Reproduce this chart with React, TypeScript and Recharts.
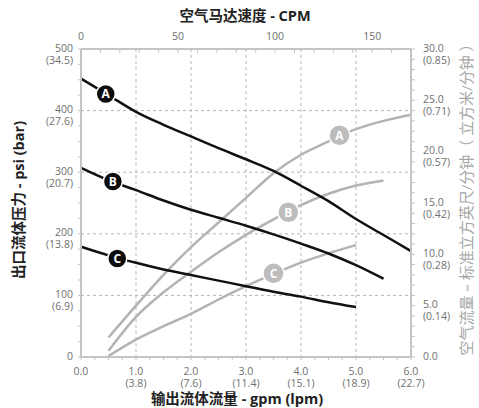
import { ComposedChart, Line, XAxis, YAxis, CartesianGrid, ReferenceDot } from 'recharts';

// 输出流量 gpm (x axis)
const gpmBlackA = [0, 0.5, 1, 1.5, 2, 2.5, 3, 3.5, 4, 4.5, 5, 5.5, 6];
const psiA = [452, 425, 398, 377, 358, 339, 321, 302, 278, 253, 224, 198, 172];
const gpmBlackB = [0, 0.5, 1, 1.5, 2, 2.5, 3, 3.5, 4, 4.5, 5, 5.5];
const psiB = [307, 287, 271, 254, 239, 226, 213, 199, 184, 168, 149, 127];
const gpmBlackC = [0, 0.5, 1, 1.5, 2, 2.5, 3, 3.5, 4, 4.5, 5];
const psiC = [179, 165, 153, 142, 133, 124, 115, 106, 98, 89, 81];

// 空气流量 scfm
const gpmGrayA = [0.5, 1, 1.5, 2, 2.5, 3, 3.5, 4, 4.5, 5, 5.5, 6];
const airA = [1.9, 5.0, 8.0, 10.7, 13.1, 15.5, 17.9, 19.7, 21.0, 22.2, 23.0, 23.6];
const gpmGrayB = [0.5, 1, 1.5, 2, 2.5, 3, 3.5, 4, 4.5, 5, 5.5];
const airB = [0.6, 3.9, 6.3, 8.3, 10.2, 11.9, 13.4, 14.8, 15.9, 16.7, 17.2];
const gpmGrayC = [0.5, 1, 1.5, 2, 2.5, 3, 3.5, 4, 4.5, 5];
const airC = [0.1, 1.7, 3.0, 4.2, 5.6, 6.9, 8.1, 9.2, 10.1, 10.9];

// ticks
const gpmTicks = [0, 0.25, 0.5, 0.75, 1, 1.25, 1.5, 1.75, 2, 2.25, 2.5, 2.75, 3, 3.25, 3.5, 3.75, 4, 4.25, 4.5, 4.75, 5, 5.25, 5.5, 5.75, 6];
const lpmLabels: Record<number, string> = { 1: '3.8', 2: '7.6', 3: '11.4', 4: '15.1', 5: '18.9', 6: '22.7' };
const cpmTicks = [0, 10, 20, 30, 40, 50, 60, 70, 80, 90, 100, 110, 120, 130, 140, 150, 160, 170];
const cpmLabels = [0, 50, 100, 150];
const psiTicks = [0, 25, 50, 75, 100, 125, 150, 175, 200, 225, 250, 275, 300, 325, 350, 375, 400, 425, 450, 475, 500];
const barLabels: Record<number, string> = { 100: '6.9', 200: '13.8', 300: '20.7', 400: '27.6', 500: '34.5' };
const airTicks = [0, 1, 2, 3, 4, 5, 6, 7, 8, 9, 10, 11, 12, 13, 14, 15, 16, 17, 18, 19, 20, 21, 22, 23, 24, 25, 26, 27, 28, 29, 30];
const m3Labels: Record<number, string> = { 5: '0.14', 10: '0.28', 15: '0.42', 20: '0.57', 25: '0.71', 30: '0.85' };

// curve tags
const blackTags = [
  { name: 'A', gpm: 0.45, psi: 427 },
  { name: 'B', gpm: 0.58, psi: 285 },
  { name: 'C', gpm: 0.66, psi: 160 },
];
const grayTags = [
  { name: 'A', gpm: 4.7, air: 21.6 },
  { name: 'B', gpm: 3.77, air: 14.1 },
  { name: 'C', gpm: 3.5, air: 8.15 },
];

const zip = (xs: number[], ys: number[], key: string) => xs.map((x, i) => ({ gpm: x, [key]: ys[i] }));
// binds the top CPM axis so it gets drawn; has no y values
const cpmAnchor = cpmLabels.map((c) => ({ cpm: c }));

const FONT = '"Open Sans", "Noto Sans CJK SC", sans-serif';
const TICK_COLOR = '#6f6f6f';
const AXIS_COLOR = '#c4c4c4';
const TICK_FS = 10.5;

const BottomTick = ({ x, y, payload }: any) => {
  const v = payload.value;
  if (!Number.isInteger(v)) return <g />;
  return (
    <g fill={TICK_COLOR} fontSize={TICK_FS} fontFamily={FONT}>
      <text x={x} y={y + 11} textAnchor="middle">{v.toFixed(1)}</text>
      {lpmLabels[v] && <text x={x} y={y + 23} textAnchor="middle">({lpmLabels[v]})</text>}
    </g>
  );
};

const TopTick = ({ x, y, payload }: any) => {
  if (!cpmLabels.includes(payload.value)) return <g />;
  return (
    <text x={x} y={y} textAnchor="middle" fill={TICK_COLOR} fontSize={TICK_FS} fontFamily={FONT}>
      {payload.value}
    </text>
  );
};

const LeftTick = ({ x, y, payload }: any) => {
  const v = payload.value;
  if (v % 100 !== 0) return <g />;
  return (
    <g fill={TICK_COLOR} fontSize={TICK_FS} fontFamily={FONT}>
      <text x={x} y={y + 2.5} textAnchor="end">{v}</text>
      {barLabels[v] && <text x={x} y={y + 14.5} textAnchor="end">({barLabels[v]})</text>}
    </g>
  );
};

const RightTick = ({ x, y, payload }: any) => {
  const v = payload.value;
  if (v % 5 !== 0) return <g />;
  return (
    <g fill={TICK_COLOR} fontSize={TICK_FS} fontFamily={FONT}>
      <text x={x} y={y + 2.5} textAnchor="start">{v.toFixed(1)}</text>
      {m3Labels[v] && <text x={x} y={y + 14.5} textAnchor="start">({m3Labels[v]})</text>}
    </g>
  );
};

const tagShape = (name: string, fill: string, r: number) => (props: any) => (
  <g>
    <circle cx={props.cx} cy={props.cy} r={r} fill={fill} stroke="#fff" strokeWidth={1.5} />
    <text x={props.cx} y={props.cy + 4.5} textAnchor="middle" fill="#fff" fontSize={12} fontWeight="bold" fontFamily={FONT}>
      {name}
    </text>
  </g>
);

export default function App() {
  return (
    <div style={{ position: 'absolute', left: 0, top: 0, width: 479, height: 408, background: '#fff' }}>
      <ComposedChart width={479} height={408} margin={{ top: 0, right: 0, bottom: 0, left: 0 }}>
        <CartesianGrid
          xAxisId="gpm"
          yAxisId="psi"
          stroke="#b5b5b5"
          strokeDasharray="3 3"
          horizontalValues={[100, 200, 300, 400]}
          verticalValues={[1, 2, 3, 4, 5]}
        />
        <XAxis
          xAxisId="gpm"
          dataKey="gpm"
          type="number"
          domain={[0, 6]}
          ticks={gpmTicks}
          interval={0}
          height={51}
          axisLine={{ stroke: AXIS_COLOR, strokeWidth: 2 }}
          tickLine={{ stroke: AXIS_COLOR }}
          tickSize={3}
          tickMargin={4}
          tick={<BottomTick />}
        />
        <XAxis
          xAxisId="cpm"
          dataKey="cpm"
          orientation="top"
          type="number"
          domain={[0, 170]}
          ticks={cpmTicks}
          interval={0}
          height={49}
          allowDataOverflow
          axisLine={{ stroke: AXIS_COLOR, strokeWidth: 2 }}
          tickLine={{ stroke: AXIS_COLOR }}
          tickSize={-4}
          tickMargin={13}
          tick={<TopTick />}
        />
        <YAxis
          yAxisId="psi"
          type="number"
          domain={[0, 500]}
          ticks={psiTicks}
          interval={0}
          width={81}
          axisLine={{ stroke: AXIS_COLOR, strokeWidth: 2 }}
          tickLine={{ stroke: AXIS_COLOR }}
          tickSize={3}
          tickMargin={5}
          tick={<LeftTick />}
        />
        <YAxis
          yAxisId="air"
          orientation="right"
          type="number"
          domain={[0, 30]}
          ticks={airTicks}
          interval={0}
          width={68}
          axisLine={{ stroke: AXIS_COLOR, strokeWidth: 2 }}
          tickLine={{ stroke: AXIS_COLOR }}
          tickSize={4}
          tickMargin={8}
          tick={<RightTick />}
        />

        <Line xAxisId="cpm" yAxisId="psi" data={cpmAnchor} dataKey="none" stroke="none" dot={false} activeDot={false} isAnimationActive={false} />

        <Line xAxisId="gpm" yAxisId="air" data={zip(gpmGrayA, airA, 'air')} dataKey="air" type="monotone" stroke="#b3b3b3" strokeWidth={2.5} dot={false} activeDot={false} isAnimationActive={false} />
        <Line xAxisId="gpm" yAxisId="air" data={zip(gpmGrayB, airB, 'air')} dataKey="air" type="monotone" stroke="#b3b3b3" strokeWidth={2.5} dot={false} activeDot={false} isAnimationActive={false} />
        <Line xAxisId="gpm" yAxisId="air" data={zip(gpmGrayC, airC, 'air')} dataKey="air" type="monotone" stroke="#b3b3b3" strokeWidth={2.5} dot={false} activeDot={false} isAnimationActive={false} />
        <Line xAxisId="gpm" yAxisId="psi" data={zip(gpmBlackA, psiA, 'psi')} dataKey="psi" type="monotone" stroke="#111" strokeWidth={2.5} dot={false} activeDot={false} isAnimationActive={false} />
        <Line xAxisId="gpm" yAxisId="psi" data={zip(gpmBlackB, psiB, 'psi')} dataKey="psi" type="monotone" stroke="#111" strokeWidth={2.5} dot={false} activeDot={false} isAnimationActive={false} />
        <Line xAxisId="gpm" yAxisId="psi" data={zip(gpmBlackC, psiC, 'psi')} dataKey="psi" type="monotone" stroke="#111" strokeWidth={2.5} dot={false} activeDot={false} isAnimationActive={false} />

        {blackTags.map((t) => (
          <ReferenceDot key={'b' + t.name} xAxisId="gpm" yAxisId="psi" x={t.gpm} y={t.psi} r={9} shape={tagShape(t.name, '#0d0d0d', 9.5)} />
        ))}
        {grayTags.map((t) => (
          <ReferenceDot key={'g' + t.name} xAxisId="gpm" yAxisId="air" x={t.gpm} y={t.air} r={10} shape={tagShape(t.name, '#bdbdbd', 10.5)} />
        ))}
      </ComposedChart>

      {/* axis titles */}
      <svg width={479} height={408} style={{ position: 'absolute', left: 0, top: 0, pointerEvents: 'none' }}>
        <text x={245} y={21} textAnchor="middle" fontSize={14.5} fontWeight="bold" fill="#222" fontFamily={FONT}>
          空气马达速度 - CPM
        </text>
        <text x={237} y={404} textAnchor="middle" fontSize={14.5} fontWeight="bold" fill="#222" fontFamily={FONT}>
          输出流体流量 - gpm (lpm)
        </text>
        <text transform="translate(24,200) rotate(-90)" textAnchor="middle" fontSize={14.5} fontWeight="bold" fill="#222" fontFamily={FONT}>
          出口流体压力 - psi (bar)
        </text>
        <text transform="translate(472,196) rotate(-90)" textAnchor="middle" fontSize={15} fill="#a8a8a8" fontFamily={FONT}>
          空气流量 – 标准立方英尺/分钟（ 立方米/分钟 ）
        </text>
      </svg>
    </div>
  );
}
